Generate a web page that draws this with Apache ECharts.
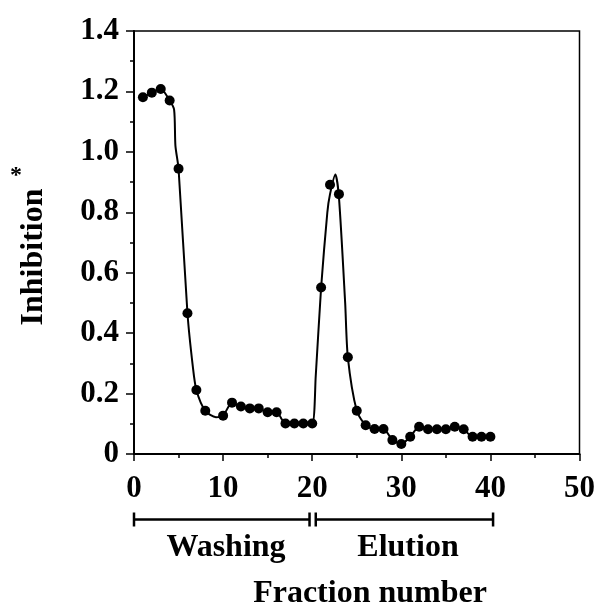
<!DOCTYPE html>
<html>
<head>
<meta charset="utf-8">
<script src="https://cdn.jsdelivr.net/npm/echarts@6/dist/echarts.min.js"></script>
<style>html,body{margin:0;padding:0;background:#fff}#c{width:598px;height:608px}</style>
</head>
<body>
<div id="c"></div>
<script>
// Data
const fractions = [1,2,3,4,5,6,7,8,10,11,12,13,14,15,16,17,18,19,20,21,22,23,24,25,26,27,28,29,30,31,32,33,34,35,36,37,38,39,40];
const inhibition = [1.181,1.196,1.208,1.170,0.944,0.466,0.212,0.143,0.127,0.170,0.157,0.151,0.151,0.138,0.138,0.101,0.101,0.101,0.101,0.551,0.891,0.860,0.320,0.143,0.095,0.083,0.083,0.046,0.033,0.057,0.090,0.082,0.082,0.082,0.090,0.082,0.057,0.057,0.057];
// Fitted curve as drawn in the picture (x, y)
const curveX = [1,2,3,4,4.5,4.65,5,6,6.6,7,8,9.2,10,11,12,13,14,15,16,17,18,19,20,20.4,21,21.7,22,22.6,23,23.7,24,25,26,27,28,29,30,31,32,33,34,35,36,37,38,39,40];
const curveY = [1.181,1.196,1.208,1.170,1.14,1.02,0.944,0.466,0.29,0.212,0.143,0.122,0.127,0.170,0.157,0.151,0.151,0.138,0.138,0.101,0.101,0.101,0.101,0.26,0.551,0.80,0.86,0.925,0.85,0.50,0.320,0.143,0.095,0.083,0.083,0.046,0.033,0.057,0.090,0.082,0.082,0.082,0.090,0.082,0.057,0.057,0.057];
const xTicks = [0,10,20,30,40,50];
const yTickLabels = ['0','0.2','0.4','0.6','0.8','1.0','1.2','1.4'];
const phases = [
  {name:'Washing', from:0, to:19.7},
  {name:'Elution', from:20.4, to:40.3}
];
const xTitle = 'Fraction number';
const yTitle = 'Inhibition';

const FONT = '"Liberation Serif", "Times New Roman", serif';
const chart = echarts.init(document.getElementById('c'), null, {renderer:'canvas'});
const pts = fractions.map((f,i)=>[f, inhibition[i]]);
const curve = curveX.map((x,i)=>[x, curveY[i]]);

chart.setOption({
  animation:false,
  backgroundColor:'#fff',
  grid:{left:134, top:31, right:18, bottom:154, show:true, borderColor:'#000', borderWidth:1.5, backgroundColor:'transparent'},
  xAxis:{
    type:'value', min:0, max:50, interval:10,
    axisLine:{show:true, onZero:false, lineStyle:{color:'#000', width:2}},
    axisTick:{show:true, inside:false, length:7, lineStyle:{color:'#000', width:1.5}},
    minorTick:{show:true, splitNumber:2, length:4, lineStyle:{color:'#000', width:1.5}},
    splitLine:{show:false},
    axisLabel:{margin:19, color:'#000', fontFamily:FONT, fontWeight:'bold', fontSize:31,
      formatter:(v)=> xTicks.includes(v) ? String(v) : ''}
  },
  yAxis:{
    type:'value', min:0, max:1.4, interval:0.2,
    axisLine:{show:true, onZero:false, lineStyle:{color:'#000', width:2}},
    axisTick:{show:true, inside:false, length:8, lineStyle:{color:'#000', width:1.5}},
    minorTick:{show:true, splitNumber:2, length:4, lineStyle:{color:'#000', width:1.5}},
    splitLine:{show:false},
    axisLabel:{margin:15, color:'#000', fontFamily:FONT, fontWeight:'bold', fontSize:31,
      formatter:(v)=> yTickLabels[Math.round(v/0.2)]}
  },
  series:[
    {type:'line', data:curve, smooth:0.25, showSymbol:false, symbol:'none',
      lineStyle:{color:'#000', width:2}, z:2, silent:true},
    {type:'scatter', data:pts, symbol:'circle', symbolSize:10,
      itemStyle:{color:'#000', opacity:1, borderWidth:0}, emphasis:{disabled:true}, z:3}
  ]
});

function drawAnnotations(){
  const px = v => chart.convertToPixel({xAxisIndex:0}, v);
  const yLine = 519.5, cap = 7;
  const els = [];
  phases.forEach(p=>{
    const x1 = px(p.from), x2 = px(p.to);
    els.push({type:'line', shape:{x1:x1, y1:yLine, x2:x2, y2:yLine}, style:{stroke:'#000', lineWidth:2.5}});
    els.push({type:'line', shape:{x1:x1, y1:yLine-cap, x2:x1, y2:yLine+cap}, style:{stroke:'#000', lineWidth:2.5}});
    els.push({type:'line', shape:{x1:x2, y1:yLine-cap, x2:x2, y2:yLine+cap}, style:{stroke:'#000', lineWidth:2.5}});
  });
  els.push({type:'text', x:226, y:548, style:{text:phases[0].name, fill:'#000', font:'bold 32px '+FONT, align:'center', verticalAlign:'middle'}});
  els.push({type:'text', x:408, y:548, style:{text:phases[1].name, fill:'#000', font:'bold 32px '+FONT, align:'center', verticalAlign:'middle'}});
  els.push({type:'text', x:370, y:594, style:{text:xTitle, fill:'#000', font:'bold 32px '+FONT, align:'center', verticalAlign:'middle'}});
  els.push({type:'text', x:34, y:257, rotation:Math.PI/2, style:{text:yTitle, fill:'#000', font:'bold 32px '+FONT, align:'center', verticalAlign:'middle'}});
  els.push({type:'text', x:16, y:176, style:{text:'*', fill:'#000', font:'bold 24px '+FONT, align:'center', verticalAlign:'middle'}});
  chart.setOption({graphic:{elements:els}});
}
drawAnnotations();
</script>
</body>
</html>
